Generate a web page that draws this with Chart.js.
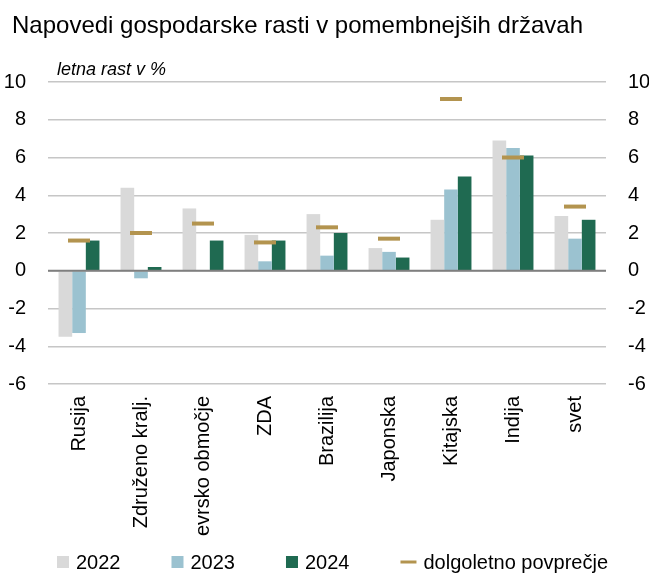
<!DOCTYPE html>
<html>
<head>
<meta charset="utf-8">
<script src="https://cdn.jsdelivr.net/npm/chart.js@4.4.1/dist/chart.umd.min.js"></script>
<style>
    body { margin: 0; background: #fff; }
    #wrap { width: 649px; height: 573px; position: relative; }
</style>
</head>
<body>
<div id="wrap"><canvas id="growthChart"></canvas></div>
<script>
const categories = ["Rusija", "Združeno kralj.", "evrsko območje", "ZDA", "Brazilija", "Japonska", "Kitajska", "Indija", "svet"];
const rast2022 = [-3.5, 4.4, 3.3, 1.9, 3.0, 1.2, 2.7, 6.9, 2.9];
const rast2023 = [-3.3, -0.4, 0, 0.5, 0.8, 1.0, 4.3, 6.5, 1.7];
const rast2024 = [1.6, 0.2, 1.6, 1.6, 2.0, 0.7, 5.0, 6.1, 2.7];
const povprecje = [1.6, 2.0, 2.5, 1.5, 2.3, 1.7, 9.1, 6.0, 3.4];
const yTicks = [-6, -4, -2, 0, 2, 4, 6, 8, 10];

const FONT = "'Liberation Sans', Arial, sans-serif";
Chart.defaults.font.family = FONT;
Chart.defaults.color = "#000";

const setTicks = axis => { axis.ticks = yTicks.map(v => ({ value: v })); };

// title + subtitle above the plot
const headerPlugin = {
    id: "header",
    afterDraw(chart) {
        const c = chart.ctx;
        c.save();
        c.fillStyle = "#000";
        c.textBaseline = "alphabetic";
        c.font = "24px " + FONT;
        c.fillText("Napovedi gospodarske rasti v pomembnejših državah", 12, 33);
        c.font = "italic 18px " + FONT;
        c.fillText("letna rast v %", chart.chartArea.left + 9, 75);
        c.restore();
    }
};

// zero line drawn over the bars
const zeroLinePlugin = {
    id: "zeroLine",
    afterDatasetsDraw(chart) {
        const c = chart.ctx;
        const y0 = chart.scales.y.getPixelForValue(0);
        c.save();
        c.strokeStyle = "#7f7f7f";
        c.lineWidth = 2;
        c.beginPath();
        c.moveTo(chart.chartArea.left, y0);
        c.lineTo(chart.chartArea.right, y0);
        c.stroke();
        c.restore();
    }
};

// legend row at the bottom, built from the datasets
const legendPlugin = {
    id: "bottomLegend",
    afterDraw(chart) {
        const c = chart.ctx;
        c.save();
        c.font = "20px " + FONT;
        c.textBaseline = "middle";
        let x = 57;
        const y = 562;
        chart.data.datasets.forEach(ds => {
            if (ds.type === "line") {
                c.strokeStyle = ds.pointBorderColor;
                c.lineWidth = 3;
                c.beginPath();
                c.moveTo(x, y);
                c.lineTo(x + 16, y);
                c.stroke();
                x += 16 + 7;
            } else {
                c.fillStyle = ds.backgroundColor;
                c.fillRect(x, y - 6, 12, 12);
                x += 12 + 7;
            }
            c.fillStyle = "#000";
            c.fillText(ds.label, x, y + 1);
            x += c.measureText(ds.label).width + 51;
        });
        c.restore();
    }
};

new Chart(document.getElementById("growthChart"), {
    type: "bar",
    data: {
        labels: categories,
        datasets: [
            { label: "2022", data: rast2022, backgroundColor: "#d9d9d9", order: 2 },
            { label: "2023", data: rast2023, backgroundColor: "#9bc2d0", order: 2 },
            { label: "2024", data: rast2024, backgroundColor: "#1f6a51", order: 2 },
            {
                type: "line",
                label: "dolgoletno povprečje",
                data: povprecje,
                showLine: false,
                pointStyle: "line",
                pointRadius: 11,
                pointHoverRadius: 11,
                pointBorderWidth: 4,
                pointBorderColor: "#b3944f",
                borderColor: "#b3944f",
                order: 1
            }
        ]
    },
    plugins: [headerPlugin, zeroLinePlugin, legendPlugin],
    options: {
        responsive: true,
        maintainAspectRatio: false,
        animation: false,
        layout: { padding: { left: 0, right: 0, top: 82, bottom: 0 } },
        datasets: {
            bar: { categoryPercentage: 0.66, barPercentage: 1.0 }
        },
        plugins: {
            legend: { display: false },
            tooltip: { enabled: false },
            title: { display: false }
        },
        scales: {
            x: {
                grid: { display: false },
                border: { display: false },
                ticks: {
                    minRotation: 90,
                    maxRotation: 90,
                    padding: 4,
                    font: { size: 20 },
                    color: "#000"
                },
                afterFit(axis) { axis.height = 189; }
            },
            y: {
                position: "left",
                min: -6,
                max: 10,
                afterBuildTicks: setTicks,
                border: { display: false },
                grid: {
                    drawTicks: false,
                    color: "#c6c6c6",
                    lineWidth: 1.5
                },
                ticks: { padding: 22, font: { size: 20 }, color: "#000" },
                afterFit(axis) { axis.width = 48; }
            },
            y2: {
                position: "right",
                min: -6,
                max: 10,
                afterBuildTicks: setTicks,
                border: { display: false },
                grid: { display: false, drawTicks: false },
                ticks: { padding: 22, font: { size: 20 }, color: "#000" },
                afterFit(axis) { axis.width = 43; }
            }
        }
    }
});
</script>
</body>
</html>
